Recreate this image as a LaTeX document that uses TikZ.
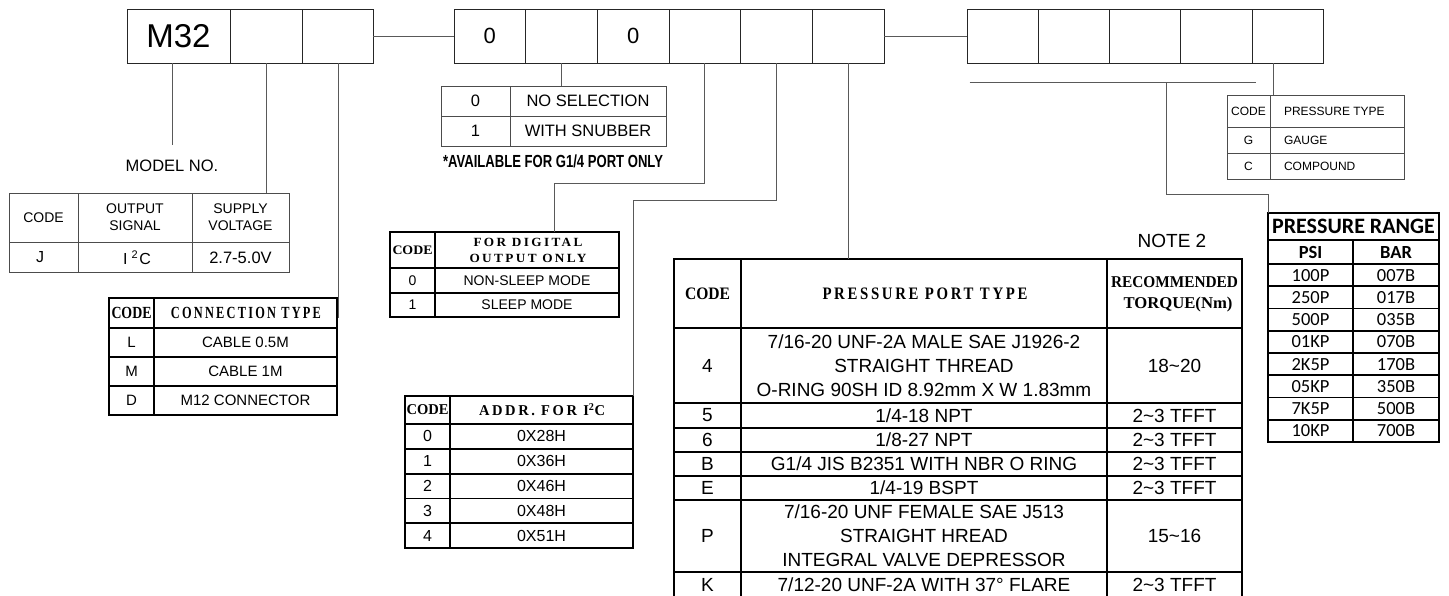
\documentclass[tikz,border=0pt]{standalone}
\usepackage{fontspec}
\usepackage{graphicx}
\setmainfont{Liberation Sans}
\newfontfamily\hdrfont{Liberation Serif}
\newfontfamily\calfont{Carlito}
\usetikzlibrary{calc,fit}
\newcommand\fs[1]{\fontsize{#1}{#1}\selectfont}
\newcommand\hdw[3]{{\fs{#1}\resizebox{#2pt}{\height}{\hdrfont\bfseries #3}}}
\newcommand\hdl[3]{{\fs{#1}\resizebox{#2pt}{\height}{\hdrfont\bfseries\addfontfeature{LetterSpace=18}#3}}}
\begin{document}
\begin{tikzpicture}[x=1pt,y=-1pt,
  box/.style={draw=black!85,line width=1pt,minimum height=54pt,inner sep=0pt,outer sep=0pt,font=\fs{22}},
  conn/.style={draw=black!65,line width=0.9pt},
  thinfr/.style={draw=black!70,line width=0.9pt},
  thickfr/.style={draw=black,line width=1.8pt},
  frm/.style={inner sep=0pt,outer sep=0pt},
  txt/.style={inner sep=0pt,outer sep=0pt,align=center},
  s12/.style={txt,font=\fs{12}},
  s14/.style={txt,font={\fontsize{14}{17}\selectfont}},
  s15/.style={txt,font=\fs{15}},
  s16/.style={txt,font=\fs{16}},
  s165/.style={txt,font=\fs{16.5}},
  s19/.style={txt,font={\fontsize{19}{24}\selectfont}},
  cal/.style={txt,font={\calfont\fontsize{18.5}{18.5}\selectfont}},
  calb/.style={txt,font={\calfont\bfseries\fontsize{18.5}{18.5}\selectfont}}
]
\useasboundingbox (0,0) rectangle (1449,595);
\fill[white] (0,0) rectangle (1449,595);

% ---------- top boxes ----------
\node[box,minimum width=103pt,font=\fs{33}] (m32) at (178.5,36) {M32};
\node[box,minimum width=72pt] (b2) at (266,36) {};
\node[box,minimum width=71pt] (b3) at (337.5,36) {};
\foreach \i/\t in {1/0,2/,3/0,4/,5/,6/}{
  \node[box,minimum width=71.67pt] (g\i) at ({454+71.67*(\i-0.5)},36) {\t};
}
\foreach \i in {1,...,5}{
  \node[box,minimum width=71.3pt] (h\i) at ({967+71.3*(\i-0.5)},36) {};
}
\draw[conn] (b3.east) -- (g1.west);
\draw[conn] (g6.east) -- (h1.west);

% ---------- model no ----------
\coordinate (mnend) at (172,145);
\draw[conn] (m32.south -| mnend) -- (mnend);
\node[s165] (mn) at (172,166) {MODEL NO.};

% ---------- table 1 : output signal ----------
\node[frm,thinfr,draw,fit={(9,193) (289,272)}] (t1) {};
\draw[thinfr] (78,193) -- (78,272) (192,193) -- (192,272) (9,242) -- (289,242);
\node[s14] (t1a) at (43.5,217.5) {CODE};
\node[s14] (t1b) at (135,217.5) {OUTPUT\\SIGNAL};
\node[s14] (t1c) at (240.5,217.5) {SUPPLY\\VOLTAGE};
\node[s16] (t1d) at (40,257.5) {J};
\node[s16] (t1e) at (137,257.5) {I\kern4pt\raisebox{5.5pt}{\fs{11}2}\kern1.5pt C};
\node[s16,font=\fs{16.5}] (t1f) at (240.5,258) {2.7-5.0V};
\draw[conn] (b2.south) -- (b2.south |- t1.north);

% ---------- table 2 : connection type ----------
\node[frm,thickfr,draw,fit={(109,298) (337,415)}] (t2) {};
\draw[thickfr] (154,298) -- (154,415) (109,328) -- (337,328) (109,357) -- (337,357) (109,386) -- (337,386);
\node[txt] (t2a) at (131.5,313) {\hdw{17}{40}{CODE}};
\node[txt] (t2b) at (246,313) {\hdl{17}{150}{CONNECTION TYPE}};
\node[s15] (t2c) at (131.5,342.5) {L};
\node[s15] (t2d) at (245.5,342.5) {CABLE 0.5M};
\node[s15] (t2e) at (131.5,371.5) {M};
\node[s15] (t2f) at (245.5,371.5) {CABLE 1M};
\node[s15] (t2g) at (131.5,400.5) {D};
\node[s15] (t2h) at (245.5,400.5) {M12 CONNECTOR};
\coordinate (c3end) at (338,318);
\draw[conn] (b3.south -| c3end) -- (c3end);

% ---------- table 3 : snubber ----------
\node[frm,thinfr,draw,fit={(441,86) (666,146)}] (t3) {};
\draw[thinfr] (510,86) -- (510,146) (441,116) -- (666,116);
\node[s165] (t3a) at (475.5,101) {0};
\node[s165] (t3b) at (588,101) {NO SELECTION};
\node[s165] (t3c) at (475.5,131) {1};
\node[s165] (t3d) at (588,131) {WITH SNUBBER};
\node[txt] (t3n) at (553,161) {\resizebox{220pt}{\height}{\fs{17.5}\bfseries *AVAILABLE FOR G1/4 PORT ONLY}};
\draw[conn] (g2.south) -- (g2.south |- t3.north);

% ---------- table 4 : digital output ----------
\node[frm,thickfr,draw,fit={(390,232) (619,317)}] (t4) {};
\draw[thickfr] (435,232) -- (435,317) (390,268) -- (619,268) (390,293) -- (619,293);
\node[txt] (t4a) at (412.5,250) {\hdw{13}{40}{CODE}};
\node[txt] (t4b) at (528,242.5) {\hdl{12.5}{109}{FOR DIGITAL}};
\node[txt] (t4c) at (528,258) {\hdl{12.5}{117}{OUTPUT ONLY}};
\node[s14] (t4d) at (412.5,280.5) {0};
\node[s14] (t4e) at (527,280.5) {NON-SLEEP MODE};
\node[s14] (t4f) at (412.5,305) {1};
\node[s14] (t4g) at (527,305) {SLEEP MODE};
\coordinate (k4) at (554,183);
\draw[conn] (g4.south) |- (k4) -- (k4 |- t4.north);

% ---------- table 5 : I2C address ----------
\node[frm,thickfr,draw,fit={(405,396) (633,548)}] (t5) {};
\draw[thickfr] (450,396) -- (450,548);
\foreach \yy in {424,448.8,473.6,498.4,523.2}{\draw[thickfr] (405,\yy) -- (633,\yy);}
\node[txt] (t5a) at (427.5,410) {\hdw{15}{42}{CODE}};
\node[txt] (t5b) at (542,410) {\hdl{15}{126}{ADDR. FOR I\textsuperscript{2}C}};
\foreach \n/\v [count=\k from 0] in {0/0X28H,1/0X36H,2/0X46H,3/0X48H,4/0X51H}{
  \node[s16] (t5c\k) at (427.5,{436.4+24.8*\k}) {\n};
  \node[s16] (t5d\k) at (541.5,{436.4+24.8*\k}) {\v};
}
\coordinate (y200) at (0,200);
\draw[conn] (g5.south) |- (t5.north east |- y200) -- (t5.north east);

% ---------- table 6 : pressure port ----------
\node[frm,thickfr,draw,fit={(674,259) (1242,598)}] (t6) {};
\draw[thickfr] (741,259) -- (741,598) (1107,259) -- (1107,598);
\foreach \yy in {328,403,428,452,476,500,572}{\draw[thickfr] (674,\yy) -- (1242,\yy);}
\node[txt] (t6a) at (707.5,293.5) {\hdw{17.5}{45}{CODE}};
\node[txt] (t6b) at (925,293.5) {\hdl{17.5}{205}{PRESSURE PORT TYPE}};
\node[txt] (t6c) at (1174.5,282) {\hdw{16.5}{127}{RECOMMENDED}};
\node[txt] (t6d) at (1178,305) {\hdw{16.5}{109}{TORQUE(Nm)}};
\node[s19] (r4a) at (707.5,365.5) {4};
\node[s19] (r4b) at (924,365.5) {7/16-20 UNF-2A MALE SAE J1926-2\\STRAIGHT THREAD\\O-RING 90SH ID 8.92mm X W 1.83mm};
\node[s19] (r4c) at (1174.5,365.5) {18\textasciitilde20};
\node[s19] (r5a) at (707.5,415.5) {5};
\node[s19] (r5b) at (924,415.5) {1/4-18 NPT};
\node[s19] (r5c) at (1174.5,415.5) {2\textasciitilde3 TFFT};
\node[s19] (r6a) at (707.5,440) {6};
\node[s19] (r6b) at (924,440) {1/8-27 NPT};
\node[s19] (r6c) at (1174.5,440) {2\textasciitilde3 TFFT};
\node[s19] (rBa) at (707.5,464) {B};
\node[s19] (rBb) at (924,464) {G1/4 JIS B2351 WITH NBR O RING};
\node[s19] (rBc) at (1174.5,464) {2\textasciitilde3 TFFT};
\node[s19] (rEa) at (707.5,488) {E};
\node[s19] (rEb) at (924,488) {1/4-19 BSPT};
\node[s19] (rEc) at (1174.5,488) {2\textasciitilde3 TFFT};
\node[s19] (rPa) at (707.5,536) {P};
\node[s19] (rPb) at (924,536) {7/16-20 UNF FEMALE SAE J513\\STRAIGHT HREAD\\INTEGRAL VALVE DEPRESSOR};
\node[s19] (rPc) at (1174.5,536) {15\textasciitilde16};
\node[s19] (rKa) at (707.5,584.5) {K};
\node[s19] (rKb) at (924,584.5) {7/12-20 UNF-2A WITH 37° FLARE};
\node[s19] (rKc) at (1174.5,584.5) {2\textasciitilde3 TFFT};
\node[s19] (note) at (1172,241) {NOTE 2};
\draw[conn] (g6.south) -- (g6.south |- t6.north);

% ---------- table 7 : pressure type ----------
\node[frm,thinfr,draw,fit={(1227,95) (1404,179)}] (t7) {};
\draw[thinfr] (1270,95) -- (1270,179) (1227,127) -- (1404,127) (1227,153) -- (1404,153);
\node[s12] (t7a) at (1248.5,111) {CODE};
\node[s12,anchor=west] (t7b) at (1284,111) {PRESSURE TYPE};
\node[s12] (t7c) at (1248.5,140) {G};
\node[s12,anchor=west] (t7d) at (1284,140) {GAUGE};
\node[s12] (t7e) at (1248.5,166) {C};
\node[s12,anchor=west] (t7f) at (1284,166) {COMPOUND};
\coordinate (c7) at (1273,95);
\draw[conn] (h5.south -| c7) -- (c7);

% ---------- table 8 : pressure range ----------
\node[frm,thickfr,draw,fit={(1268,213) (1439,442)}] (t8) {};
\draw[thickfr] (1268,240) -- (1439,240) (1353,240) -- (1353,442);
\foreach \k in {0,...,7}{\draw[thickfr] (1268,{264+22.25*\k}) -- (1439,{264+22.25*\k});}
\node[calb,font={\calfont\bfseries\fontsize{22}{22}\selectfont}] (t8a) at (1353.5,226.5) {PRESSURE RANGE};
\node[calb] (t8b) at (1310.5,252) {PSI};
\node[calb] (t8c) at (1396,252) {BAR};
\foreach \p/\b [count=\k from 0] in {100P/007B,250P/017B,500P/035B,01KP/070B,2K5P/170B,05KP/350B,7K5P/500B,10KP/700B}{
  \node[cal] (t8p\k) at (1310.5,{275.1+22.25*\k}) {\p};
  \node[cal] (t8q\k) at (1396,{275.1+22.25*\k}) {\b};
}

% ---------- pressure range connector ----------
\coordinate (u1) at (969.5,82);
\coordinate (u2) at (1255.5,82);
\coordinate (u3) at (1166,82);
\coordinate (y194) at (0,194);
\draw[conn] (u1) -- (u2);
\draw[conn] (u3) |- (t8.north west |- y194) -- (t8.north west);
\end{tikzpicture}
\end{document}
